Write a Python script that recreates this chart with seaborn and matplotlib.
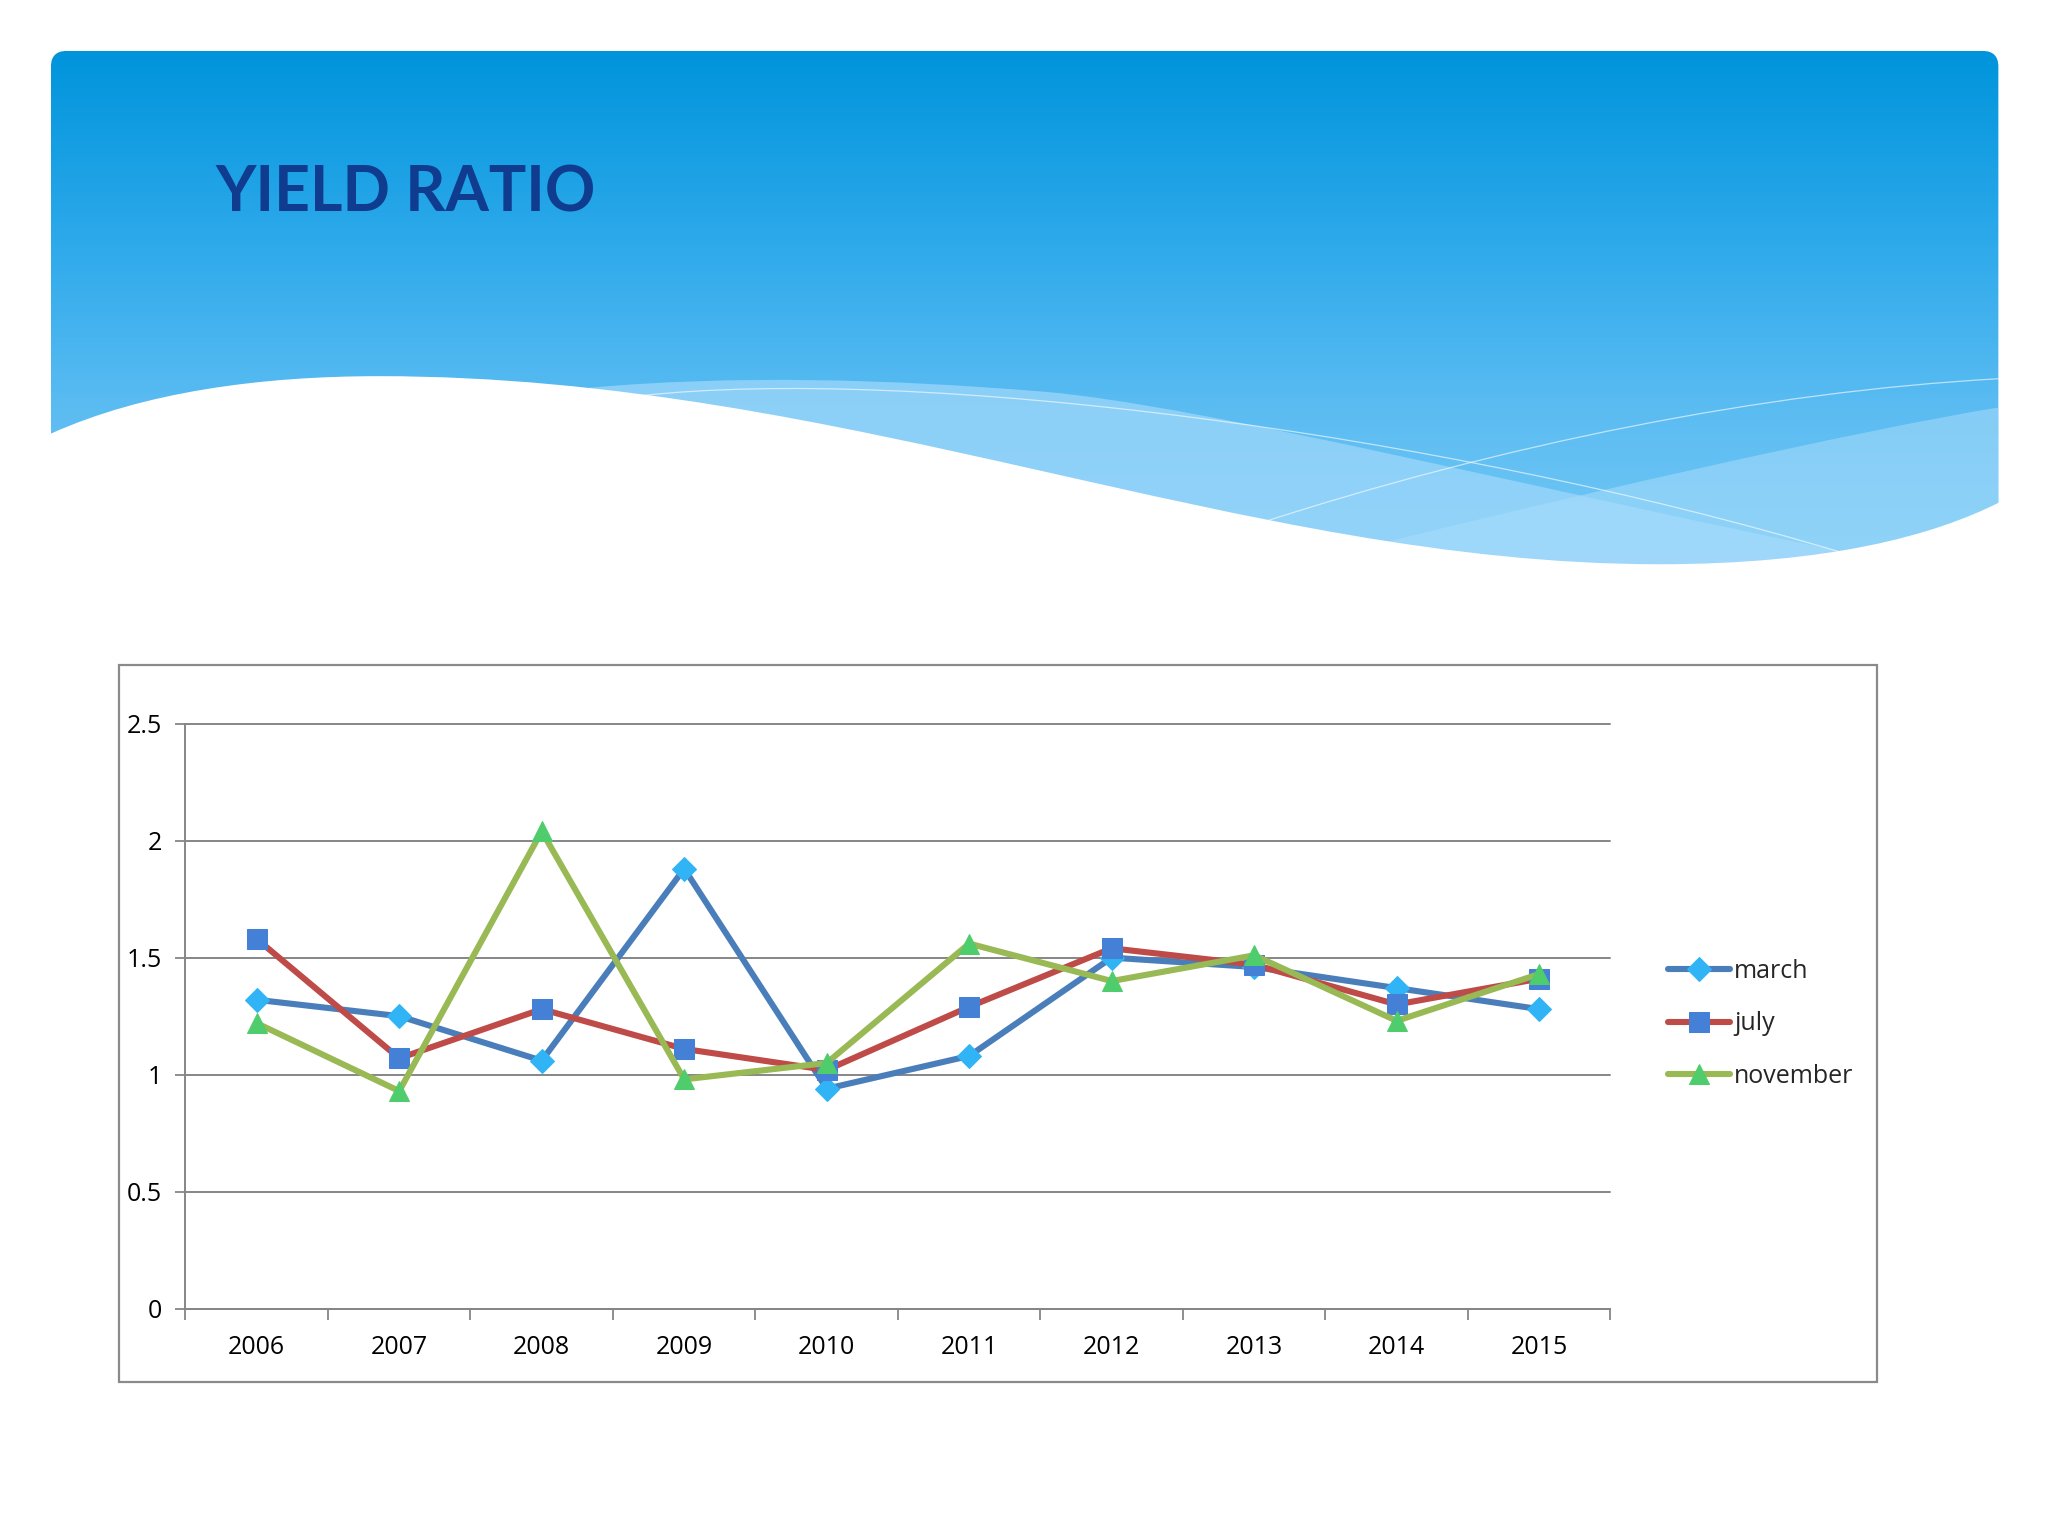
import matplotlib
matplotlib.use('Agg')
import matplotlib.pyplot as plt
import numpy as np
import pandas as pd
import seaborn as sns
from matplotlib.colors import LinearSegmentedColormap
from matplotlib.patches import FancyBboxPatch, PathPatch, Rectangle
from matplotlib.path import Path

# data
years = ['2006', '2007', '2008', '2009', '2010', '2011', '2012', '2013', '2014', '2015']
march = [1.32, 1.25, 1.06, 1.88, 0.94, 1.08, 1.50, 1.46, 1.37, 1.28]
july = [1.58, 1.07, 1.28, 1.11, 1.02, 1.29, 1.54, 1.47, 1.30, 1.41]
november = [1.22, 0.93, 2.04, 0.98, 1.05, 1.56, 1.40, 1.51, 1.23, 1.43]
y_ticks = [0, 0.5, 1, 1.5, 2, 2.5]
y_tick_labels = ['0', '0.5', '1', '1.5', '2', '2.5']

df = pd.DataFrame({'pos': range(len(years)), 'march': march, 'july': july, 'november': november})

sns.set_theme(style='white')
plt.rcParams['font.family'] = ['Open Sans', 'DejaVu Sans']

W, H = 1568, 1176  # slide units (scaled to 2048x1536 on save)
fig = plt.figure(figsize=(20.48, 15.36), dpi=100)

# ---- slide background (header gradient + wave) ----
bg = fig.add_axes([0, 0, 1, 1], zorder=0)
bg.set_xlim(0, W)
bg.set_ylim(H, 0)
bg.axis('off')

cmap = LinearSegmentedColormap.from_list('hdr', ['#0094db', '#2aa8ea', '#5bbcf2', '#78caf6'])
grad = np.linspace(0, 1, 256)[:, None]
im = bg.imshow(grad, cmap=cmap, extent=[39, 1530, 450, 39], aspect='auto', origin='upper', zorder=1)
clip = FancyBboxPatch((39, 39), 1491, 420, boxstyle='round,pad=0,rounding_size=12',
                      transform=bg.transData, facecolor='none', edgecolor='none')
bg.add_patch(clip)
im.set_clip_path(clip)

C4 = Path.CURVE4
band1 = Path([(450, 297), (560, 287), (680, 290), (800, 300),
              (920, 310), (1200, 380), (1410, 422), (1410, 480), (450, 480), (450, 297)],
             [Path.MOVETO, C4, C4, C4, C4, C4, C4, Path.LINETO, Path.LINETO, Path.CLOSEPOLY])
bg.add_patch(PathPatch(band1, facecolor='#9dd7fa', edgecolor='none', alpha=0.75, zorder=2))

band2 = Path([(1000, 430), (1200, 380), (1420, 330), (1530, 312), (1530, 480), (1000, 480), (1000, 430)],
             [Path.MOVETO, C4, C4, C4, Path.LINETO, Path.LINETO, Path.CLOSEPOLY])
bg.add_patch(PathPatch(band2, facecolor='#a8dcfb', edgecolor='none', alpha=0.55, zorder=2))

for verts in [[(490, 303), (700, 280), (1100, 330), (1410, 423)],
              [(960, 402), (1150, 340), (1350, 300), (1530, 290)]]:
    bg.add_patch(PathPatch(Path(verts, [Path.MOVETO, C4, C4, C4]), facecolor='none',
                           edgecolor='white', lw=0.9, alpha=0.6, zorder=3))

wave = Path([(39, 332), (110, 300), (200, 288), (290, 288),
             (650, 288), (950, 432), (1270, 432),
             (1400, 432), (1480, 410), (1530, 385),
             (1545, 385), (1545, 500), (25, 500), (25, 332), (39, 332)],
            [Path.MOVETO, C4, C4, C4, C4, C4, C4, C4, C4, C4,
             Path.LINETO, Path.LINETO, Path.LINETO, Path.LINETO, Path.CLOSEPOLY])
bg.add_patch(PathPatch(wave, facecolor='white', edgecolor='none', zorder=4))

# chart frame
bg.add_patch(Rectangle((91, 509), 1346, 549, facecolor='white', edgecolor='#8a8a8a', lw=1.6, zorder=5))

fig.text(165 / W, 1 - 162 / H, 'YIELD RATIO', fontsize=45, fontweight='bold', color='#0f3c8e',
         family=['Lato', 'DejaVu Sans'], ha='left', va='baseline')

# ---- the chart ----
ax = fig.add_axes([142 / W, 1 - 1002 / H, (1233 - 142) / W, (1002 - 554) / H], zorder=2)
ax.set_facecolor('none')

series = [
    ('march', '#4a7ebb', 'D', '#30b4f6', 12),
    ('july', '#be4b48', 's', '#4480d6', 14),
    ('november', '#98b954', '^', '#4fcc6c', 14),
]
for name, line_c, mk, mk_c, ms in series:
    sns.lineplot(data=df, x='pos', y=name, ax=ax, color=line_c, lw=4.4, marker=mk,
                 markersize=ms, markerfacecolor=mk_c, markeredgecolor=mk_c, label=name)

ax.set_xlim(-0.5, len(years) - 0.5)
ax.set_ylim(0, 2.5)
ax.set_xticks(range(len(years)))
ax.set_xticklabels(years)
ax.set_xticks(np.arange(-0.5, len(years), 1), minor=True)
ax.set_yticks(y_ticks)
ax.set_yticklabels(y_tick_labels)
ax.tick_params(axis='x', which='major', length=0, pad=19, labelsize=18, labelcolor='black')
ax.tick_params(axis='x', which='minor', length=8, width=1.3, color='#868686', direction='out', bottom=True)
ax.tick_params(axis='y', length=7, width=1.3, color='#868686', direction='out', left=True,
               pad=10, labelsize=18, labelcolor='black')
ax.set_xlabel('')
ax.set_ylabel('')
ax.yaxis.grid(True, color='#868686', lw=1.4)
ax.xaxis.grid(False)
for gl in ax.get_ygridlines():
    gl.set_clip_on(False)
for side in ['top', 'right']:
    ax.spines[side].set_visible(False)
for side in ['left', 'bottom']:
    ax.spines[side].set_color('#868686')
    ax.spines[side].set_linewidth(1.4)

ax.legend(loc='center left', bbox_to_anchor=(1277 / W, 1 - 784 / H), bbox_transform=fig.transFigure,
          frameon=False, fontsize=18, handlelength=2.5, handletextpad=0.15, labelspacing=1.1,
          borderpad=0, borderaxespad=0)

fig.savefig('out.png', dpi=100, facecolor='white')
